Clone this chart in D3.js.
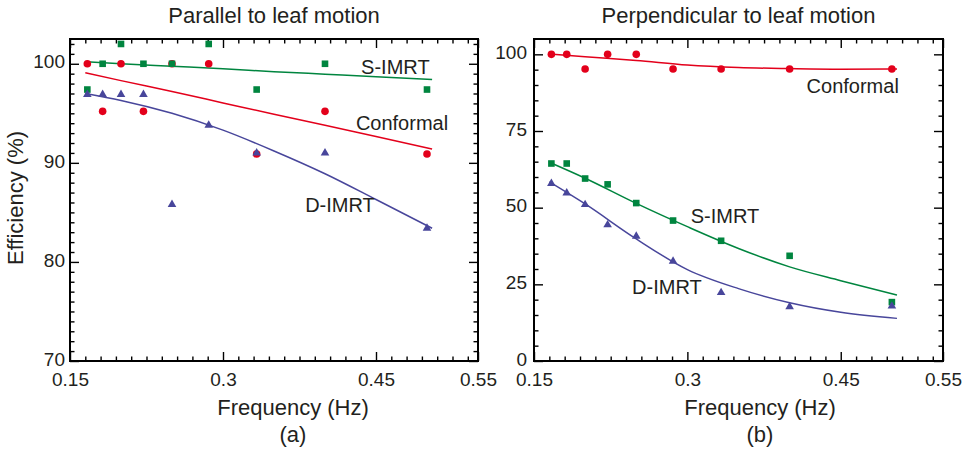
<!DOCTYPE html>
<html>
<head>
<meta charset="utf-8">
<script src="https://cdn.jsdelivr.net/npm/d3@7"></script>
<style>
    body { margin: 0; background: #fff; }
    svg text { font-family: "Liberation Sans", Arial, sans-serif; fill: #231f20; }
</style>
</head>
<body>
<svg id="chart" width="964" height="454"></svg>
<script>
// measured frequencies (Hz), same for both panels
const freq = [0.167, 0.182, 0.2, 0.222, 0.25, 0.286, 0.333, 0.4, 0.5];

// (a) parallel to leaf motion
const parConformal = [100, 95.2, 100, 95.2, 100, 100, 90.9, 95.2, 90.9];
const parSimrt = [97.4, 100, 102, 100, 100, 102, 97.4, 100, 97.4];
const parDimrt = [96.9, 96.9, 96.9, 96.9, 85.8, 93.8, 91.0, 91.0, 83.4];

// (b) perpendicular to leaf motion
const perpConformal = [100, 100, 95.2, 100, 100, 95.2, 95.2, 95.2, 95.2];
const perpSimrt = [64.4, 64.4, 59.5, 57.6, 51.5, 45.8, 39.2, 34.3, 19.2];
const perpDimrt = [57.9, 54.8, 51.0, 44.4, 40.7, 32.5, 22.3, 17.7, 17.9];

// fitted curves
const fitFreq = [0.165, 0.2, 0.25, 0.3, 0.35, 0.4, 0.45, 0.505];
const parFitConformal = [99.1, 98.3, 97.2, 96.05, 94.9, 93.8, 92.65, 91.4];
const parFitSimrt = [100.2, 100.0, 99.75, 99.5, 99.2, 98.95, 98.7, 98.4];
const parFitDimrt = [97.0, 96.3, 95.0, 93.3, 91.2, 88.9, 86.3, 83.4];
const perpFitConformal = [100.1, 99.2, 98.0, 96.5, 95.7, 95.35, 95.15, 95.2];
const perpFitSimrt = [64.8, 59.6, 51.4, 43.8, 36.7, 30.7, 26.2, 21.5];
const perpFitDimrt = [58.4, 51.2, 39.8, 29.8, 23.6, 19.0, 15.9, 13.9];

// axis ticks
const xMajor = [0.15, 0.3, 0.45, 0.55];
const xMinor = d3.range(1, 27).map((i) => +(0.15 + i * 0.015).toFixed(3)).filter((v) => v !== 0.3 && v !== 0.45);
const parYMajor = [70, 80, 90, 100];
const parYMinor = d3.range(71, 103).filter((v) => v % 10 !== 0);
const perpYMajor = [0, 25, 50, 75, 100];
const perpYMinor = d3.range(5, 105, 5).filter((v) => v % 25 !== 0);

const colors = { conformal: '#e3001b', simrt: '#00853f', dimrt: '#48469b' };

const svg = d3.select('#chart');
const plotTop = 39, plotBottom = 361;

function drawPanel(p) {
    const g = svg.append('g');
    const x = d3.scaleLinear().domain([0.15, 0.55]).range([p.left, p.right]);
    const y = d3.scaleLinear().domain(p.yDomain).range([plotBottom, plotTop]);

    const styleAxis = (sel) => {
        sel.select('.domain').remove();
        sel.selectAll('line').attr('stroke', '#000').attr('stroke-width', 1.4);
        sel.selectAll('text').attr('font-size', 19).attr('fill', '#231f20').attr('font-family', null);
    };

    // major + minor ticks on all four sides, pointing inward
    g.append('g').attr('transform', `translate(0,${plotBottom})`)
        .call(d3.axisBottom(x).tickValues(xMajor).tickSizeInner(-9).tickSizeOuter(0).tickPadding(12).tickFormat((d) => d))
        .call(styleAxis);
    g.append('g').attr('transform', `translate(0,${plotBottom})`)
        .call(d3.axisBottom(x).tickValues(xMinor).tickSize(-4.5).tickFormat(''))
        .call(styleAxis);
    g.append('g').attr('transform', `translate(0,${plotTop})`)
        .call(d3.axisTop(x).tickValues(xMajor).tickSize(-9).tickFormat(''))
        .call(styleAxis);
    g.append('g').attr('transform', `translate(0,${plotTop})`)
        .call(d3.axisTop(x).tickValues(xMinor).tickSize(-4.5).tickFormat(''))
        .call(styleAxis);
    g.append('g').attr('transform', `translate(${p.left},0)`)
        .call(d3.axisLeft(y).tickValues(p.yMajor).tickSizeInner(-9).tickSizeOuter(0).tickPadding(p.pad))
        .call(styleAxis)
        .selectAll('text').attr('dy', '0.22em');
    g.append('g').attr('transform', `translate(${p.left},0)`)
        .call(d3.axisLeft(y).tickValues(p.yMinor).tickSize(-4.5).tickFormat(''))
        .call(styleAxis);
    g.append('g').attr('transform', `translate(${p.right},0)`)
        .call(d3.axisRight(y).tickValues(p.yMajor).tickSize(-9).tickFormat(''))
        .call(styleAxis);
    g.append('g').attr('transform', `translate(${p.right},0)`)
        .call(d3.axisRight(y).tickValues(p.yMinor).tickSize(-4.5).tickFormat(''))
        .call(styleAxis);

    g.append('rect')
        .attr('x', p.left).attr('y', plotTop)
        .attr('width', p.right - p.left).attr('height', plotBottom - plotTop)
        .attr('fill', 'none').attr('stroke', '#000').attr('stroke-width', 2);

    // fitted curves
    const line = d3.line().x((d) => x(d[0])).y((d) => y(d[1])).curve(d3.curveMonotoneX);
    p.series.forEach((s) => {
        g.append('path')
            .datum(d3.zip(fitFreq, s.fit))
            .attr('d', line)
            .attr('fill', 'none')
            .attr('stroke', s.color)
            .attr('stroke-width', 1.5);
    });

    // markers
    p.series.forEach((s) => {
        const pts = d3.zip(freq, s.values);
        if (s.shape === 'circle') {
            g.selectAll(null).data(pts).join('circle')
                .attr('cx', (d) => x(d[0])).attr('cy', (d) => y(d[1]))
                .attr('r', 3.8).attr('fill', s.color);
        } else if (s.shape === 'square') {
            g.selectAll(null).data(pts).join('rect')
                .attr('x', (d) => x(d[0]) - 3.3).attr('y', (d) => y(d[1]) - 3.3)
                .attr('width', 6.6).attr('height', 6.6).attr('fill', s.color);
        } else {
            g.selectAll(null).data(pts).join('path')
                .attr('transform', (d) => `translate(${x(d[0])},${y(d[1])})`)
                .attr('d', d3.symbol(d3.symbolTriangle, 32))
                .attr('fill', s.color);
        }
    });

    // series labels
    p.series.forEach((s) => {
        g.append('text')
            .attr('x', x(s.label[0])).attr('y', y(s.label[1]))
            .attr('text-anchor', 'middle').attr('font-size', 20)
            .text(s.name);
    });

    g.append('text')
        .attr('x', (p.left + p.right) / 2).attr('y', 23)
        .attr('text-anchor', 'middle').attr('font-size', 22)
        .text(p.title);
    g.append('text')
        .attr('x', p.xLabelX).attr('y', 415)
        .attr('text-anchor', 'middle').attr('font-size', 22)
        .text('Frequency (Hz)');
    g.append('text')
        .attr('x', p.xLabelX).attr('y', 442)
        .attr('text-anchor', 'middle').attr('font-size', 22)
        .text(p.tag);
}

drawPanel({
    left: 70, right: 478, yDomain: [70, 102.5], yMajor: parYMajor, yMinor: parYMinor, pad: 5,
    title: 'Parallel to leaf motion', tag: '(a)', xLabelX: 293,
    series: [
        { name: 'Conformal', values: parConformal, fit: parFitConformal, color: colors.conformal, shape: 'circle', label: [0.4755, 93.33] },
        { name: 'S-IMRT', values: parSimrt, fit: parFitSimrt, color: colors.simrt, shape: 'square', label: [0.469, 98.95] },
        { name: 'D-IMRT', values: parDimrt, fit: parFitDimrt, color: colors.dimrt, shape: 'triangle', label: [0.4147, 85.0] },
    ],
});

drawPanel({
    left: 534, right: 943, yDomain: [0, 105], yMajor: perpYMajor, yMinor: perpYMinor, pad: 7,
    title: 'Perpendicular to leaf motion', tag: '(b)', xLabelX: 760,
    series: [
        { name: 'Conformal', values: perpConformal, fit: perpFitConformal, color: colors.conformal, shape: 'circle', label: [0.4617, 87.5] },
        { name: 'S-IMRT', values: perpSimrt, fit: perpFitSimrt, color: colors.simrt, shape: 'square', label: [0.3368, 45.1] },
        { name: 'D-IMRT', values: perpDimrt, fit: perpFitDimrt, color: colors.dimrt, shape: 'triangle', label: [0.28, 21.8] },
    ],
});

svg.append('text')
    .attr('transform', 'translate(23,198) rotate(-90)')
    .attr('text-anchor', 'middle').attr('font-size', 22)
    .text('Efficiency (%)');
</script>
</body>
</html>
